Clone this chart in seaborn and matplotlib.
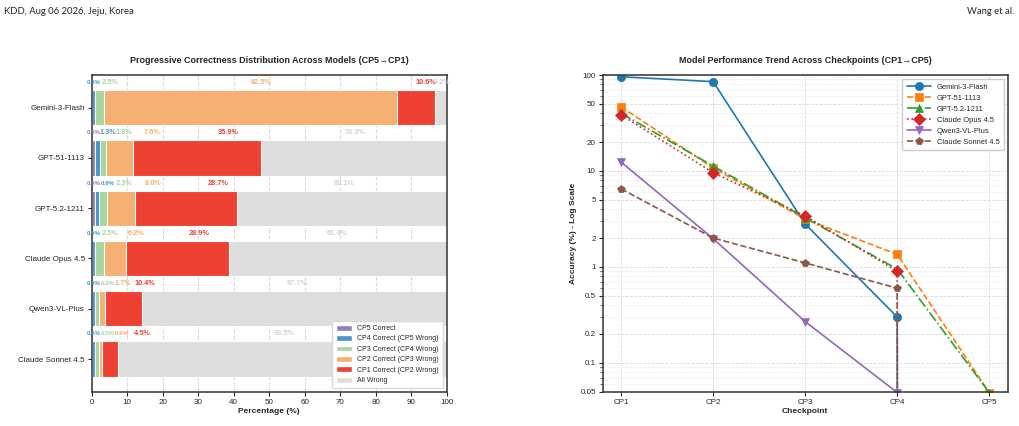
import numpy as np
import matplotlib
matplotlib.use('Agg')
import matplotlib.pyplot as plt
from matplotlib.patches import Patch
from matplotlib.ticker import NullFormatter
import seaborn as sns

# model names, top to bottom
models = ['Gemini-3-Flash', 'GPT-51-1113', 'GPT-5.2-1211',
          'Claude Opus 4.5', 'Qwen3-VL-Plus', 'Claude Sonnet 4.5']
checkpoints = ['CP1', 'CP2', 'CP3', 'CP4', 'CP5']

# share of samples (%) by the last checkpoint answered correctly
cp5_correct = [0.0, 0.049, 0.049, 0.0, 0.0, 0.0]
cp4_correct = [0.3, 1.3, 0.9, 0.9, 0.049, 0.6]
cp3_correct = [2.5, 1.8, 2.3, 2.5, 0.22, 0.5]
cp2_correct = [82.5, 7.6, 8.0, 6.2, 1.7, 0.9]
cp1_correct = [10.6, 35.9, 28.7, 28.9, 10.4, 4.5]
all_wrong = [4.2, 53.3, 60.1, 61.4, 87.7, 93.5]

seg_names = ['CP5 Correct', 'CP4 Correct (CP5 Wrong)', 'CP3 Correct (CP4 Wrong)',
             'CP2 Correct (CP3 Wrong)', 'CP1 Correct (CP2 Wrong)', 'All Wrong']
seg_colors = ['#8e80c4', '#4a96c8', '#a8d5a0', '#f6b073', '#ec4133', '#dedede']

line_styles = ['-', '--', '-.', ':', '-', '--']
line_markers = ['o', 's', '^', 'D', 'v', 'p']
line_colors = sns.color_palette('tab10', 6)

sns.set_style('whitegrid', {'axes.edgecolor': '0.2', 'grid.linestyle': '--',
                            'grid.color': '0.85', 'xtick.bottom': True, 'ytick.left': True})
plt.rcParams['font.family'] = ['Liberation Sans', 'DejaVu Sans']
plt.rcParams['xtick.major.size'] = 3
plt.rcParams['ytick.major.size'] = 3
plt.rcParams['xtick.major.width'] = 0.8
plt.rcParams['ytick.major.width'] = 0.8

segs = np.array([cp5_correct, cp4_correct, cp3_correct,
                 cp2_correct, cp1_correct, all_wrong]).T   # rows = models

# tiny segments are drawn with a minimum width so they stay visible
draw_w = np.where(segs > 0, np.maximum(segs, 1.0), 0.0)
draw_w[:, -1] = segs[:, -1]
lefts = np.cumsum(draw_w, axis=1) - draw_w
rights = lefts + draw_w

fig = plt.figure(figsize=(10.2, 4.26), dpi=100)
ax1 = fig.add_axes([0.0899, 0.0805, 0.348, 0.7434])
ax2 = fig.add_axes([0.5909, 0.0805, 0.397, 0.7434])

# ---- left: stacked bars (drawn as overlapping cumulative bars) ----
for k in reversed(range(6)):
    sns.barplot(x=rights[:, k], y=models, orient='h', color=seg_colors[k],
                saturation=1, width=0.7, edgecolor='white', linewidth=0.8, ax=ax1)

for i in range(len(models)):
    offset = 0.0
    prev_x = None
    for k in range(5):
        v = segs[i, k]
        if v <= 0:
            continue
        x = (lefts[i, k] + rights[i, k]) / 2 + offset
        if prev_x is not None and x - prev_x < 5.5:
            offset += 3.0
            x += 3.0
        prev_x = x
        ax1.text(x, i - 0.5, f'{v:.1f}%', ha='center', va='center',
                 fontsize=5.3 if v >= 1 else 4.4, fontweight='bold', color=seg_colors[k])
    # all wrong label sits at its own segment centre
    xg = (lefts[i, 5] + rights[i, 5]) / 2
    ax1.text(xg, i - 0.5, f'{segs[i, 5]:.1f}%', ha='center', va='center',
             fontsize=5.3, fontweight='bold', color='#d3d3d3')

ax1.set_xlim(0, 100)
ax1.set_ylim(5.65, -0.65)
ax1.set_xticks(range(0, 101, 10))
ax1.grid(axis='y', visible=False)
ax1.set_axisbelow(True)
ax1.set_ylabel('')
ax1.set_xlabel('Percentage (%)', fontsize=6, fontweight='bold', labelpad=2)
ax1.set_title('Progressive Correctness Distribution Across Models (CP5\u2192CP1)',
              fontsize=6.5, fontweight='bold', pad=9)
ax1.tick_params(labelsize=5.8, pad=2)
handles = [Patch(facecolor=c, label=n) for c, n in zip(seg_colors, seg_names)]
ax1.legend(handles=handles, loc='lower right', fontsize=5, frameon=True,
           edgecolor='0.85', framealpha=1, handlelength=2.2, handleheight=0.9,
           borderpad=0.6, labelspacing=0.45)
for s in ax1.spines.values():
    s.set_linewidth(1.1)

# ---- right: accuracy per checkpoint (reached checkpoint = sum of later buckets) ----
acc = np.cumsum(segs[:, :5], axis=1)[:, ::-1]   # CP1..CP5
for i, m in enumerate(models):
    sns.lineplot(x=checkpoints, y=acc[i], ax=ax2, estimator=None, sort=False,
                 color=line_colors[i], linestyle=line_styles[i], marker=line_markers[i],
                 markersize=6, linewidth=1.2, markeredgecolor=line_colors[i],
                 markeredgewidth=0.5, label=m)

ax2.set_yscale('log')
ax2.set_ylim(0.05, 100)
ax2.set_xlim(-0.2, 4.2)
yt = [0.05, 0.1, 0.2, 0.5, 1, 2, 5, 10, 20, 50, 100]
ax2.set_yticks(yt, ['0.05', '0.1', '0.2', '0.5', '1', '2', '5', '10', '20', '50', '100'])
ax2.yaxis.set_minor_formatter(NullFormatter())
ax2.tick_params(axis='y', which='minor', left=True, length=2, width=0.5)
ax2.grid(True, which='major', ls='--', lw=0.6, color='0.85')
ax2.grid(True, which='minor', axis='y', ls='--', lw=0.4, color='0.9')
ax2.tick_params(labelsize=5.8, pad=2)
ax2.set_xlabel('Checkpoint', fontsize=6, fontweight='bold', labelpad=2)
ax2.set_ylabel('Accuracy (%) - Log Scale', fontsize=6, fontweight='bold', labelpad=2)
ax2.set_title('Model Performance Trend Across Checkpoints (CP1\u2192CP5)',
              fontsize=6.5, fontweight='bold', pad=9)
ax2.legend(loc='upper right', fontsize=5.4, frameon=True, edgecolor='0.8',
           framealpha=1, handlelength=3.2, labelspacing=0.5, borderpad=0.6)
for s in ax2.spines.values():
    s.set_linewidth(1.1)

# page header
fig.text(0.004, 0.972, 'KDD, Aug 06 2026, Jeju, Korea', fontsize=6.8,
         family=['Lato', 'DejaVu Sans'], va='center', ha='left')
fig.text(0.994, 0.972, 'Wang et al.', fontsize=6.8,
         family=['Lato', 'DejaVu Sans'], va='center', ha='right')

fig.savefig('out.png', dpi=100)
